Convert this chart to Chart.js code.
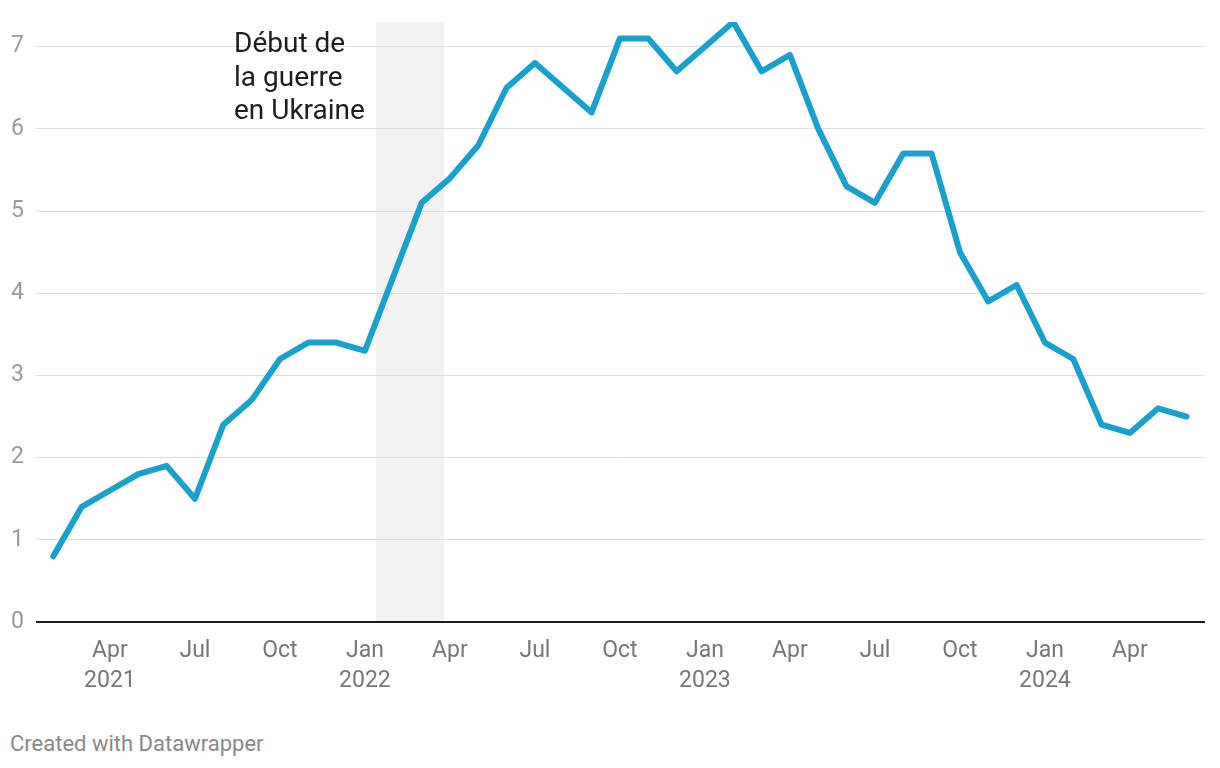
<!DOCTYPE html>
<html>
<head>
<meta charset="utf-8">
<script src="https://cdn.jsdelivr.net/npm/chart.js@4/dist/chart.umd.min.js"></script>
<style>
  html, body { margin: 0; padding: 0; background: #fff; }
  #wrap { position: relative; width: 1220px; height: 768px; font-family: Roboto, sans-serif; }
  #box { position: absolute; left: 0; top: 0; width: 1220px; height: 700px; }
  #credit { position: absolute; left: 10px; top: 731px; font-size: 22px; color: #888; }
</style>
</head>
<body>
<div id="wrap">
  <div id="box"><canvas id="chart"></canvas></div>
  <div id="credit">Created with Datawrapper</div>
</div>
<script>
// données mensuelles (fév. 2021 - juin 2024)
const months = [
  '2021-02','2021-03','2021-04','2021-05','2021-06','2021-07','2021-08','2021-09','2021-10','2021-11','2021-12',
  '2022-01','2022-02','2022-03','2022-04','2022-05','2022-06','2022-07','2022-08','2022-09','2022-10','2022-11','2022-12',
  '2023-01','2023-02','2023-03','2023-04','2023-05','2023-06','2023-07','2023-08','2023-09','2023-10','2023-11','2023-12',
  '2024-01','2024-02','2024-03','2024-04','2024-05','2024-06'
];
const values = [
  0.8, 1.4, 1.6, 1.8, 1.9, 1.5, 2.4, 2.7, 3.2, 3.4, 3.4,
  3.3, 4.2, 5.1, 5.4, 5.8, 6.5, 6.8, 6.5, 6.2, 7.1, 7.1, 6.7,
  7.0, 7.3, 6.7, 6.9, 6.0, 5.3, 5.1, 5.7, 5.7, 4.5, 3.9, 4.1,
  3.4, 3.2, 2.4, 2.3, 2.6, 2.5
];
const tickMonths = ['2021-04','2021-07','2021-10','2022-01','2022-04','2022-07','2022-10','2023-01','2023-04','2023-07','2023-10','2024-01','2024-04'];
const tickLabels = [['Apr','2021'],'Jul','Oct',['Jan','2022'],'Apr','Jul','Oct',['Jan','2023'],'Apr','Jul','Oct',['Jan','2024'],'Apr'];
const yTicks = [0, 1, 2, 3, 4, 5, 6, 7];
// période surlignée (en mois depuis jan. 2021)
const warStart = 12.39;
const warEnd = 14.79;
const noteLines = ['Début de', 'la guerre', 'en Ukraine'];

function monthIndex(s) {
  const [y, m] = s.split('-').map(Number);
  return (y - 2021) * 12 + (m - 1);
}

const points = months.map((m, i) => ({ x: monthIndex(m), y: values[i] }));
const tickPos = tickMonths.map(monthIndex);

const bandPlugin = {
  id: 'band',
  beforeDraw(chart) {
    const { ctx, chartArea, scales } = chart;
    const x0 = scales.x.getPixelForValue(warStart);
    const x1 = scales.x.getPixelForValue(warEnd);
    ctx.save();
    ctx.fillStyle = '#f2f2f2';
    ctx.fillRect(x0, chartArea.top, x1 - x0, chartArea.bottom - chartArea.top);
    ctx.restore();
  },
  afterDraw(chart) {
    const { ctx } = chart;
    ctx.save();
    ctx.font = '28px Roboto';
    ctx.fillStyle = '#1d1d1d';
    ctx.textBaseline = 'alphabetic';
    noteLines.forEach((t, i) => ctx.fillText(t, 234, 52 + i * 33.7));
    ctx.restore();
  }
};

new Chart(document.getElementById('chart'), {
  type: 'line',
  data: {
    datasets: [{
      data: points,
      borderColor: '#18a1cd',
      borderWidth: 6,
      borderCapStyle: 'round',
      borderJoinStyle: 'round',
      pointRadius: 0,
      tension: 0
    }]
  },
  options: {
    responsive: true,
    maintainAspectRatio: false,
    animation: false,
    layout: { padding: { top: 22, right: 15, left: 0, bottom: 0 } },
    plugins: { legend: { display: false }, tooltip: { enabled: false } },
    scales: {
      x: {
        type: 'linear',
        min: 0.39,
        max: 41.65,
        afterBuildTicks(scale) { scale.ticks = tickPos.map(v => ({ value: v })); },
        afterFit(scale) { scale.height = 78; scale.paddingLeft = 0; scale.paddingRight = 0; },
        grid: { display: false, drawTicks: false },
        border: { display: false },
        ticks: {
          autoSkip: false,
          maxRotation: 0,
          padding: 14,
          color: '#777',
          font: { family: 'Roboto', size: 23, lineHeight: 1.3 },
          callback(v) { return tickLabels[tickPos.indexOf(v)]; }
        }
      },
      y: {
        min: 0,
        max: 7.3,
        afterBuildTicks(scale) { scale.ticks = yTicks.map(v => ({ value: v })); },
        afterFit(scale) { scale.width = 36; scale.paddingTop = 0; scale.paddingBottom = 0; },
        grid: {
          drawTicks: false,
          color: c => c.tick.value === 0 ? '#1a1a1a' : '#dedede',
          lineWidth: c => c.tick.value === 0 ? 2 : 1
        },
        border: { display: false },
        ticks: {
          padding: 12,
          color: '#9a9a9a',
          font: { family: 'Roboto', size: 23 }
        }
      }
    }
  },
  plugins: [bandPlugin]
});
</script>
</body>
</html>
